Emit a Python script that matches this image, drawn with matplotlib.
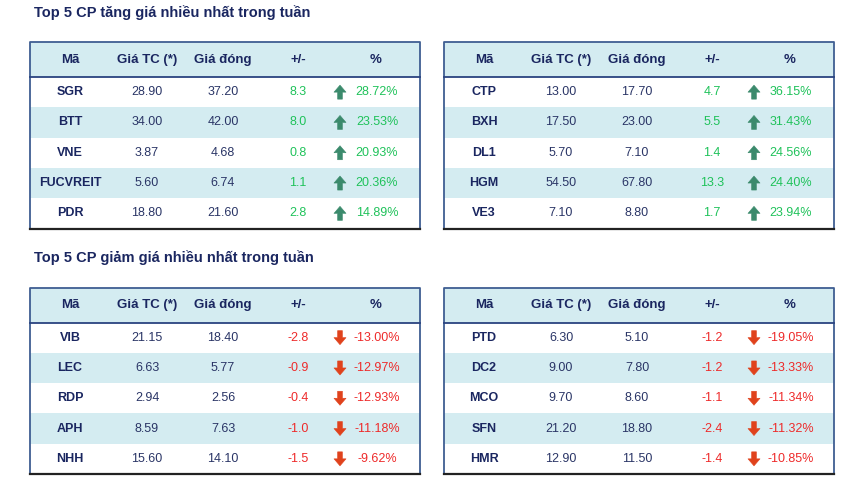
import matplotlib.pyplot as plt
from matplotlib.patches import Rectangle, Polygon

plt.rcParams['font.family'] = ['Liberation Sans', 'DejaVu Sans']

# Top gainers
up_left_ma = ['SGR', 'BTT', 'VNE', 'FUCVREIT', 'PDR']
up_left_tc = ['28.90', '34.00', '3.87', '5.60', '18.80']
up_left_close = ['37.20', '42.00', '4.68', '6.74', '21.60']
up_left_chg = ['8.3', '8.0', '0.8', '1.1', '2.8']
up_left_pct = ['28.72%', '23.53%', '20.93%', '20.36%', '14.89%']

up_right_ma = ['CTP', 'BXH', 'DL1', 'HGM', 'VE3']
up_right_tc = ['13.00', '17.50', '5.70', '54.50', '7.10']
up_right_close = ['17.70', '23.00', '7.10', '67.80', '8.80']
up_right_chg = ['4.7', '5.5', '1.4', '13.3', '1.7']
up_right_pct = ['36.15%', '31.43%', '24.56%', '24.40%', '23.94%']

# Top losers
dn_left_ma = ['VIB', 'LEC', 'RDP', 'APH', 'NHH']
dn_left_tc = ['21.15', '6.63', '2.94', '8.59', '15.60']
dn_left_close = ['18.40', '5.77', '2.56', '7.63', '14.10']
dn_left_chg = ['-2.8', '-0.9', '-0.4', '-1.0', '-1.5']
dn_left_pct = ['-13.00%', '-12.97%', '-12.93%', '-11.18%', '-9.62%']

dn_right_ma = ['PTD', 'DC2', 'MCO', 'SFN', 'HMR']
dn_right_tc = ['6.30', '9.00', '9.70', '21.20', '12.90']
dn_right_close = ['5.10', '7.80', '8.60', '18.80', '11.50']
dn_right_chg = ['-1.2', '-1.2', '-1.1', '-2.4', '-1.4']
dn_right_pct = ['-19.05%', '-13.33%', '-11.34%', '-11.32%', '-10.85%']

headers = ['Mã', 'Giá TC (*)', 'Giá đóng', '+/-', '%']
title_up = 'Top 5 CP tăng giá nhiều nhất trong tuần'
title_dn = 'Top 5 CP giảm giá nhiều nhất trong tuần'

NAVY = '#1a2660'
TXT = '#2a3566'
STRIPE = '#d4ecf1'
GREEN = '#1fc25a'
RED = '#ee2a2a'
ARROW_UP = '#3b8a6c'
ARROW_DN = '#e0421c'

fig = plt.figure(figsize=(8.64, 4.91), dpi=100)
ax = fig.add_axes([0, 0, 1, 1])
ax.set_xlim(0, 864)
ax.set_ylim(491, 0)
ax.axis('off')


def arrow(x, y, up, color):
    # small block arrow, y is the center
    h, hw, sw, hh = 14, 6.0, 2.4, 7.0
    top, bot = y - h / 2, y + h / 2
    if up:
        pts = [(x, top), (x + hw, top + hh), (x + sw, top + hh), (x + sw, bot),
               (x - sw, bot), (x - sw, top + hh), (x - hw, top + hh)]
    else:
        pts = [(x, bot), (x + hw, bot - hh), (x + sw, bot - hh), (x + sw, top),
               (x - sw, top), (x - sw, bot - hh), (x - hw, bot - hh)]
    ax.add_patch(Polygon(pts, closed=True, facecolor=color, edgecolor=color,
                         lw=0.4, joinstyle='round'))


def draw_table(x0, y0, ma, tc, close, chg, pct, up):
    w = 390
    hdr_h = 35
    row_h = 30.3
    cols = [x0 + 40, x0 + 117, x0 + 193, x0 + 268, x0 + 346]
    arrow_x = x0 + 310
    pct_x = x0 + 347
    # header
    ax.add_patch(Rectangle((x0, y0), w, hdr_h, facecolor=STRIPE, edgecolor='none'))
    for i in range(len(ma)):
        ry = y0 + hdr_h + i * row_h
        if i % 2 == 1:
            ax.add_patch(Rectangle((x0, ry), w, row_h, facecolor=STRIPE, edgecolor='none'))
    yb = y0 + hdr_h + len(ma) * row_h
    # borders
    ax.plot([x0, x0, x0 + w, x0 + w], [yb, y0, y0, yb], color='#3f5e92', lw=1.3)
    ax.plot([x0, x0 + w], [y0 + hdr_h, y0 + hdr_h], color='#2a4380', lw=1.3)
    ax.plot([x0, x0 + w], [yb, yb], color='#222222', lw=1.6)
    for cx, h in zip(cols, headers):
        ax.text(cx, y0 + hdr_h / 2, h, ha='center', va='center', fontsize=9.5,
                fontweight='bold', color=NAVY)
    col = GREEN if up else RED
    for i in range(len(ma)):
        cy = y0 + hdr_h + (i + 0.5) * row_h
        ax.text(cols[0], cy, ma[i], ha='center', va='center', fontsize=9,
                fontweight='bold', color=NAVY)
        ax.text(cols[1], cy, tc[i], ha='center', va='center', fontsize=9, color=TXT)
        ax.text(cols[2], cy, close[i], ha='center', va='center', fontsize=9, color=TXT)
        ax.text(cols[3], cy, chg[i], ha='center', va='center', fontsize=9, color=col)
        arrow(arrow_x, cy, up, ARROW_UP if up else ARROW_DN)
        ax.text(pct_x, cy, pct[i], ha='center', va='center', fontsize=9, color=col)


ax.text(34, 13, title_up, ha='left', va='center', fontsize=10.5, fontweight='bold', color=NAVY)
ax.text(34, 258, title_dn, ha='left', va='center', fontsize=10.5, fontweight='bold', color=NAVY)

draw_table(30, 42, up_left_ma, up_left_tc, up_left_close, up_left_chg, up_left_pct, True)
draw_table(444, 42, up_right_ma, up_right_tc, up_right_close, up_right_chg, up_right_pct, True)
draw_table(30, 287.5, dn_left_ma, dn_left_tc, dn_left_close, dn_left_chg, dn_left_pct, False)
draw_table(444, 287.5, dn_right_ma, dn_right_tc, dn_right_close, dn_right_chg, dn_right_pct, False)

fig.savefig('out.png', dpi=100)
